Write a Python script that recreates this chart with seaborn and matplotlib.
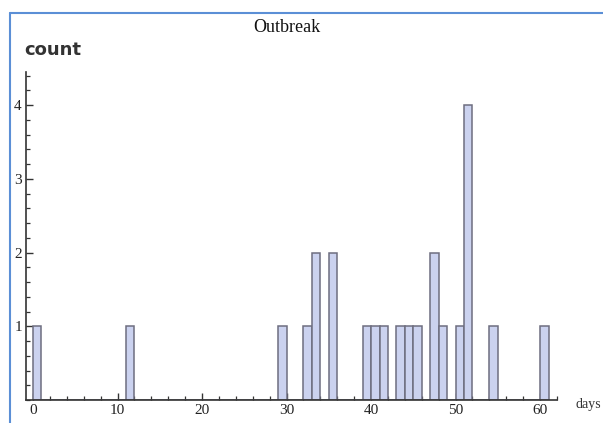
import numpy as np
import pandas as pd
import matplotlib
matplotlib.use("Agg")
import matplotlib.pyplot as plt
from matplotlib.ticker import MultipleLocator
from matplotlib.lines import Line2D
import seaborn as sns

# onset day of each case (one entry per case)
days = [0, 11, 29, 32, 33, 33, 35, 35, 39, 40, 41, 43, 44, 45,
        47, 47, 48, 50, 51, 51, 51, 51, 54, 60]
x_ticks = [0, 10, 20, 30, 40, 50, 60]
y_ticks = [1, 2, 3, 4]

sns.set_style("white")
plt.rcParams['font.family'] = ['Liberation Serif', 'DejaVu Serif']

df = pd.DataFrame({"days": days})

fig = plt.figure(figsize=(6.03, 4.23), dpi=100)
ax = fig.add_axes([26 / 603, 23 / 423, 531 / 603, 328 / 423])

sns.histplot(data=df, x="days", bins=np.arange(0, 62), ax=ax,
             color="#cbd2ef", edgecolor="#6e6e80", linewidth=1.1, alpha=1.0)

ax.set_xlim(-0.83, 62.0)
ax.set_ylim(0, 4.45)
ax.set_xticks(x_ticks)
ax.set_yticks(y_ticks)
ax.xaxis.set_minor_locator(MultipleLocator(2))
ax.yaxis.set_minor_locator(MultipleLocator(0.2))
ax.tick_params(axis="both", which="both", bottom=True, left=True,
               top=False, right=False)
ax.tick_params(axis="both", which="major", direction="in", length=5,
               width=1.0, color="#333333", labelsize=11, pad=3,
               labelcolor="#222222")
ax.tick_params(axis="both", which="minor", direction="in", length=3,
               width=0.9, color="#333333")
for s in ["top", "right"]:
    ax.spines[s].set_visible(False)
for s in ["left", "bottom"]:
    ax.spines[s].set_color("#333333")
    ax.spines[s].set_linewidth(1.2)
ax.set_xlabel("")
ax.set_ylabel("")

fig.text(287 / 603, 1 - 27 / 423, "Outbreak", ha="center", va="center",
         fontsize=13, color="#111111")
fig.text(24 / 603, 1 - 50 / 423, "count", ha="left", va="center",
         fontsize=13, fontweight="bold", family="DejaVu Sans", color="#333333")
fig.text(575 / 603, 1 - 404 / 423, "days", ha="left", va="center",
         fontsize=10, color="#333333")

# blue frame of the screenshot
fig.add_artist(Line2D([10 / 603, 1], [1 - 13 / 423, 1 - 13 / 423],
                      transform=fig.transFigure, color="#5b8fd6", lw=1.5))
fig.add_artist(Line2D([10 / 603, 10 / 603], [0, 1 - 13 / 423],
                      transform=fig.transFigure, color="#5b8fd6", lw=1.5))

fig.savefig("out.png", dpi=100)
